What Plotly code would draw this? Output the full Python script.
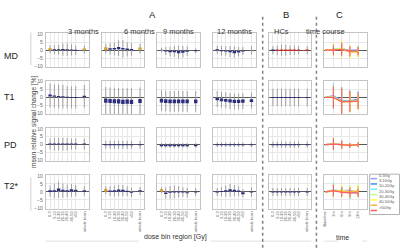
import plotly.graph_objects as go

# ---------------- data ----------------
PARAMS = ["MD", "T1", "PD", "T2*"]
COLUMNS = ["3 months", "6 months", "9 months", "12 months", "HCs", "time course"]
DOSE_BINS = ["0-3", "3-10", "10-20", "20-30", "30-40", "40-50", ">50", "whole brain"]
TIME_LABELS = ["Baseline", "3m", "6m", "9m", "12m"]
DOSE_LEGEND = ["0-3Gy", "3-10Gy", "10-20Gy", "20-30Gy", "30-40Gy", "40-50Gy", ">50Gy"]
Y_TICKS = [-10, -5, 0, 5, 10]

# per parameter: lists for 3m, 6m, 9m, 12m, HCs (7 dose bins + whole brain)
MD_MEAN = [[0.6, 0.3, 0.3, 0.4, 0.3, 0.2, 0.0, 0.5],
           [1.0, 0.8, 0.9, 1.3, 0.9, 0.6, 0.5, 1.0],
           [0.0, -0.5, -0.8, -0.8, -1.2, -1.0, -0.6, -0.3],
           [0.3, -0.3, -0.5, -0.8, -1.2, -1.0, -0.5, 0.0],
           [0.0, 0.0, 0.0, 0.0, 0.0, 0.0, 0.0, 0.0]]
MD_SEM = [[0.6, 0.3, 0.3, 0.3, 0.3, 0.3, 0.3, 0.5],
          [0.8, 0.5, 0.5, 0.7, 0.5, 0.4, 0.3, 0.7],
          [0.3, 0.3, 0.5, 0.5, 0.7, 0.6, 0.4, 0.3],
          [0.3, 0.3, 0.3, 0.4, 0.7, 0.5, 0.3, 0.0],
          [0.5, 0.5, 0.5, 0.5, 0.5, 0.5, 0.5, 0.5]]
MD_SD = [[2.5, 2.8, 3.2, 3.8, 4.0, 3.5, 3.0, 2.5],
         [3.0, 3.5, 4.0, 5.0, 5.5, 4.5, 4.0, 3.0],
         [1.5, 2.5, 3.0, 3.5, 4.0, 3.5, 3.0, 1.5],
         [2.5, 3.0, 3.0, 3.5, 3.5, 3.0, 2.5, 2.5],
         [2.5, 3.0, 3.5, 3.5, 3.0, 3.0, 2.5, 2.5]]
MD_SIG = [[2, 1, 1, 1, 1, 1, 1, 2],
          [2, 1, 1, 1, 1, 1, 1, 2],
          [0, 1, 1, 1, 1, 1, 1, 1],
          [1, 1, 1, 1, 1, 1, 1, 1],
          [1, 3, 3, 3, 3, 3, 3, 3]]

T1_MEAN = [[1.2, 0.8, 0.6, 0.5, 0.1, 0.0, 0.0, 0.6],
           [-2.0, -2.2, -2.4, -2.5, -2.8, -2.6, -2.8, -2.2],
           [-2.0, -2.3, -2.5, -2.5, -2.5, -2.5, -2.5, -2.5],
           [-1.0, -1.5, -1.8, -2.2, -2.5, -2.5, -2.3, -2.0],
           [0.0, 0.0, 0.0, 0.0, 0.0, 0.0, 0.0, 0.0]]
T1_SEM = [[0.6, 0.4, 0.3, 0.3, 0.3, 0.3, 0.3, 0.4],
          [1.3, 1.3, 1.3, 1.3, 1.3, 1.3, 1.3, 1.3],
          [1.2, 1.2, 1.2, 1.2, 1.2, 1.2, 1.2, 1.2],
          [0.7, 0.9, 0.9, 1.0, 1.0, 1.0, 1.0, 0.9],
          [0.3, 0.3, 0.3, 0.3, 0.3, 0.3, 0.3, 0.3]]
T1_SD = [[7.5, 7.5, 7.5, 7.5, 7.0, 7.0, 7.0, 7.0],
         [8.5, 8.5, 8.5, 8.5, 8.5, 8.5, 8.5, 8.5],
         [6.5, 6.5, 6.5, 6.5, 6.5, 6.5, 6.5, 6.5],
         [5.0, 5.0, 5.0, 5.0, 5.0, 5.0, 5.0, 5.0],
         [5.5, 5.5, 5.5, 5.5, 5.5, 5.5, 5.5, 5.5]]
T1_SIG = [[1] * 8, [1] * 8, [1] * 8, [1] * 8, [1] * 8]

PD_MEAN = [[0.4, 0.4, 0.4, 0.4, 0.4, 0.4, 0.4, 0.4],
           [0.0, 0.0, 0.0, 0.0, 0.0, 0.0, 0.0, 0.0],
           [-0.5, -0.5, -0.5, -0.5, -0.5, -0.5, -0.5, -0.5],
           [0.0, 0.0, 0.0, 0.0, 0.0, 0.0, 0.0, 0.0],
           [0.0, 0.0, 0.0, 0.0, 0.0, 0.0, 0.0, 0.0]]
PD_SEM = [[0.3] * 8, [0.3] * 8, [0.5] * 8, [0.3] * 8, [0.3] * 8]
PD_SD = [[3.5, 4.0, 4.0, 4.0, 4.0, 3.5, 3.5, 3.5],
         [2.5, 2.5, 2.5, 2.5, 2.5, 2.5, 2.5, 2.5],
         [1.5, 1.5, 1.5, 1.5, 1.5, 1.5, 1.5, 1.5],
         [1.5, 1.5, 1.5, 1.5, 1.5, 1.5, 1.5, 1.5],
         [2.0, 2.0, 2.0, 2.0, 2.0, 2.0, 2.0, 2.0]]
PD_SIG = [[1] * 8, [1] * 8, [1] * 8, [1] * 8, [1] * 8]

T2S_MEAN = [[0.5, 0.6, 1.3, 0.8, 0.6, 1.0, 0.8, 0.6],
            [1.0, 0.5, 0.6, 0.9, 0.8, 0.4, -0.3, 0.6],
            [1.0, -0.8, -0.3, 0.0, 0.0, 0.0, -0.5, 0.0],
            [0.0, 0.2, 0.6, 1.0, 0.8, 0.5, -0.8, 0.0],
            [0.0, 0.0, 0.0, 0.0, 0.0, 0.0, 0.0, 0.0]]
T2S_SEM = [[0.5, 0.5, 0.8, 0.6, 0.5, 0.7, 0.5, 0.5],
           [0.8, 0.4, 0.5, 0.6, 0.5, 0.4, 0.3, 0.4],
           [0.7, 0.5, 0.3, 0.3, 0.3, 0.3, 0.3, 0.3],
           [0.3, 0.3, 0.5, 0.6, 0.5, 0.4, 0.6, 0.3],
           [0.3, 0.3, 0.3, 0.3, 0.3, 0.3, 0.3, 0.3]]
T2S_SD = [[3.5, 4.5, 5.0, 4.5, 4.0, 4.0, 3.5, 3.0],
          [2.5, 3.0, 3.5, 3.5, 3.5, 3.0, 3.0, 2.5],
          [2.0, 3.5, 4.0, 4.0, 3.5, 3.0, 3.0, 2.5],
          [2.5, 3.0, 3.5, 4.0, 3.5, 3.0, 2.5, 3.0],
          [2.5, 2.5, 2.5, 2.5, 2.5, 2.5, 2.5, 2.5]]
T2S_SIG = [[1] * 8, [2, 1, 1, 1, 1, 1, 1, 1], [2, 1, 1, 1, 1, 1, 1, 1], [1] * 8, [1] * 8]

MEANS = [MD_MEAN, T1_MEAN, PD_MEAN, T2S_MEAN]
SEMS = [MD_SEM, T1_SEM, PD_SEM, T2S_SEM]
SDS = [MD_SD, T1_SD, PD_SD, T2S_SD]
SIGS = [MD_SIG, T1_SIG, PD_SIG, T2S_SIG]

# ---------------- styling / layout ----------------
W, H = 400, 250
FONT = "Liberation Sans, Arial, sans-serif"
SIG_COLORS = {0: "#8a8aa0", 1: "#2d2d7d", 2: "#d9a12a", 3: "#d52a2a"}
DOSE_COLORS = ["#9a9aff", "#3f8cff", "#66f5ff", "#b9ff9a", "#ffff40", "#ffb347", "#ff6060"]
COL_LEFT = [44, 100, 156, 212, 268, 324]
COL_W = 43
ROW_TOP = [32, 80, 128, 176]
ROW_H = 34

def px(x):
    return x / W

def py(y):
    return 1 - y / H

bin_x = [i + 1 for i in range(len(DOSE_BINS) - 1)] + [len(DOSE_BINS) + 1]
time_x = list(range(len(TIME_LABELS)))

fig = go.Figure()
layout = dict(
    width=W, height=H, margin=dict(l=0, r=0, t=0, b=0),
    paper_bgcolor="white", plot_bgcolor="white",
    showlegend=False, barmode="overlay", font=dict(family=FONT, color="#333"),
)

for r in range(len(PARAMS)):
    for c in range(len(COLUMNS)):
        idx = r * len(COLUMNS) + c + 1
        xa = "x" if idx == 1 else f"x{idx}"
        ya = "y" if idx == 1 else f"y{idx}"
        bottom = r == len(PARAMS) - 1
        if c < 5:
            m, s, e, g = MEANS[r][c], SDS[r][c], SEMS[r][c], SIGS[r][c]
            fig.add_trace(go.Bar(x=bin_x, base=[mi - si for mi, si in zip(m, s)],
                                 y=[2 * si for si in s], width=0.22,
                                 marker=dict(color="#9c9c9c", line=dict(width=0)),
                                 xaxis=xa, yaxis=ya, hoverinfo="skip"))
            fig.add_trace(go.Bar(x=bin_x, base=[mi - ei for mi, ei in zip(m, e)],
                                 y=[2 * ei for ei in e], width=0.8,
                                 marker=dict(color=[SIG_COLORS[k] for k in g], line=dict(width=0)),
                                 xaxis=xa, yaxis=ya, hoverinfo="skip"))
            xaxis = dict(range=[0, 10], tickvals=bin_x, ticktext=DOSE_BINS)
        else:
            for d in range(len(DOSE_LEGEND)):
                yv = [0] + [MEANS[r][t][d] for t in range(4)]
                ev = [0] + [SDS[r][t][d] for t in range(4)]
                fig.add_trace(go.Scatter(x=time_x, y=yv, mode="lines",
                                         line=dict(color=DOSE_COLORS[d], width=1.2),
                                         error_y=dict(type="data", array=ev, visible=True,
                                                      color=DOSE_COLORS[d], thickness=1, width=0),
                                         xaxis=xa, yaxis=ya, hoverinfo="skip"))
            xaxis = dict(range=[-0.1, 5.1], tickvals=time_x, ticktext=TIME_LABELS)
        xaxis.update(domain=[px(COL_LEFT[c]), px(COL_LEFT[c] + COL_W)], anchor=ya,
                     showgrid=True, gridcolor="#e8e8e8", gridwidth=1, zeroline=False,
                     showline=True, linecolor="#c4c4c4", linewidth=1, mirror=True,
                     ticks="", showticklabels=bottom, tickangle=-90,
                     tickfont=dict(size=4, color="#555"), fixedrange=True)
        yaxis = dict(domain=[py(ROW_TOP[r] + ROW_H), py(ROW_TOP[r])], anchor=xa,
                     range=[-10.5, 10.5], tickvals=Y_TICKS,
                     showgrid=True, gridcolor="#e8e8e8", gridwidth=1,
                     zeroline=True, zerolinecolor="#5a5a5a", zerolinewidth=1,
                     showline=True, linecolor="#c4c4c4", linewidth=1, mirror=True,
                     ticks="", showticklabels=(c == 0), ticklabelstandoff=1,
                     tickfont=dict(size=5, color="#666"), fixedrange=True)
        layout["xaxis" if idx == 1 else f"xaxis{idx}"] = xaxis
        layout["yaxis" if idx == 1 else f"yaxis{idx}"] = yaxis

shapes = []
annotations = []

def ann(x, y, text, size, color="#333", **kw):
    annotations.append(dict(x=px(x), y=py(y), xref="paper", yref="paper", text=text,
                            showarrow=False, borderpad=0,
                            font=dict(size=size, color=color, family=FONT), **kw))

def line(x0, y0, x1, y1, color, width=1, dash=None):
    d = dict(type="line", xref="paper", yref="paper", x0=px(x0), y0=py(y0), x1=px(x1), y1=py(y1),
             line=dict(color=color, width=width))
    if dash:
        d["line"]["dash"] = dash
    shapes.append(d)

# section letters
ann(151, 6, "A", 9.5, "#222")
ann(289, 6, "B", 9.5, "#222")
ann(344, 6, "C", 9.5, "#222")
# column titles
for c, name in enumerate(COLUMNS):
    ann(COL_LEFT[c] + COL_W / 2, 24, name, 7.5, "#333")
# row labels
for r, name in enumerate(PARAMS):
    ann(1, ROW_TOP[r] + ROW_H / 2, name, 9, "#222", xanchor="left")
# y title with side lines
ann(27, 122, "mean relative signal change [%]", 6.5, "#444", textangle=-90)
line(29, 31, 29, 64, "#d0d0d0")
line(29, 178, 29, 212, "#d0d0d0")
# bottom titles with side lines
ann(174, 244, "dose bin region [Gy]", 7, "#333")
line(44, 243, 138, 243, "#e0e0e0")
line(210, 243, 311, 243, "#e0e0e0")
ann(350, 244, "time", 7, "#333")
line(324, 243, 338, 243, "#e0e0e0")
line(362, 243, 367, 243, "#e0e0e0")
# dashed separators
line(262, 15, 262, 250, "#808080", 1.5, "dot")
line(316, 15, 316, 250, "#808080", 1.5, "dot")
# manual legend
shapes.append(dict(type="rect", xref="paper", yref="paper", x0=px(369.5), x1=px(399.5),
                   y0=py(216), y1=py(175), line=dict(color="#b0b0b0", width=1), fillcolor="white"))
for k, lab in enumerate(DOSE_LEGEND):
    yk = 179.5 + k * 5.4
    line(370.5, yk, 377, yk, DOSE_COLORS[k], 1.5)
    ann(378, yk, lab, 4, "#555", xanchor="left")

layout["shapes"] = shapes
layout["annotations"] = annotations
fig.update_layout(**layout)
fig.write_html("out.html", config={"displayModeBar": False, "staticPlot": True},
               post_script="document.body.style.margin='0px';document.body.style.overflow='hidden';")
